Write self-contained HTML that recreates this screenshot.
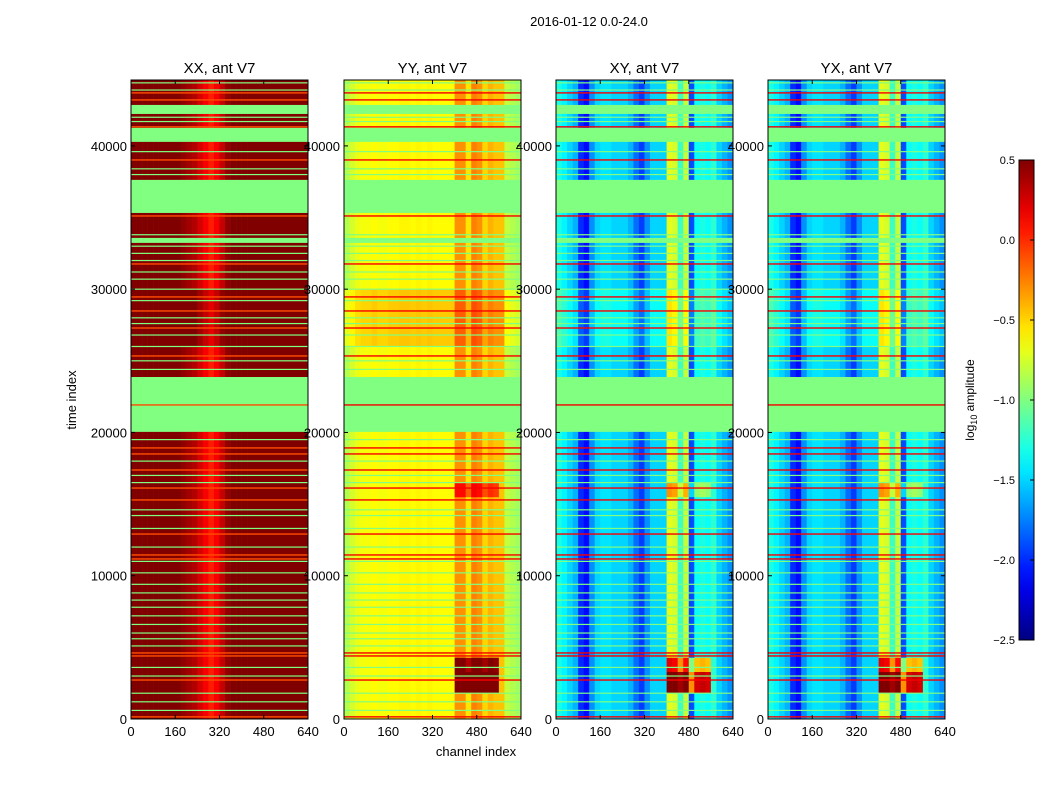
<!DOCTYPE html>
<html><head><meta charset="utf-8"><style>
body{margin:0;background:#fff;}
svg text{font-family:"Liberation Sans",sans-serif;fill:#000;}
</style></head><body>
<svg id="fig" width="1050" height="800" viewBox="0 0 1050 800" xmlns="http://www.w3.org/2000/svg">
<rect width="1050" height="800" fill="#fff"/>
<text x="589" y="26" font-size="13" text-anchor="middle">2016-01-12 0.0-24.0</text>
<text transform="translate(76,400) rotate(-90)" font-size="13" text-anchor="middle">time index</text>
<text x="476" y="756" font-size="13" text-anchor="middle">channel index</text>
<g id="panels"></g>
<g id="cbar"></g>
</svg>
<script>
// ---- data ----
const panelTitles = ["XX, ant V7","YY, ant V7","XY, ant V7","YX, ant V7"];
// channel profiles: log10 amplitude per 20-channel bin (32 bins over 0..640)
const profileXX = [0.5,0.5,0.5,0.5,0.5,0.5,0.5,0.5,0.5,0.45,0.4,0.35,0.25,0.15,0.05,0.15,0.3,0.45,0.5,0.5,0.5,0.5,0.5,0.5,0.5,0.5,0.5,0.5,0.5,0.5,0.5,0.5];
const profileYY = [-0.85,-0.75,-0.68,-0.65,-0.65,-0.62,-0.65,-0.65,-0.62,-0.62,-0.6,-0.6,-0.62,-0.6,-0.62,-0.6,-0.62,-0.62,-0.62,-0.62,-0.3,-0.3,-0.55,-0.25,-0.3,-0.5,-0.4,-0.45,-0.45,-0.8,-0.85,-0.9];
const profileXY = [-1.3,-1.4,-1.5,-1.6,-2.0,-2.1,-1.7,-1.5,-1.45,-1.45,-1.5,-1.5,-1.5,-1.6,-1.8,-1.95,-1.7,-1.5,-1.5,-1.5,-0.7,-0.75,-1.2,-0.8,-1.9,-1.35,-1.3,-1.35,-1.25,-1.5,-1.6,-1.7];
const profileYX = [-1.3,-1.4,-1.5,-1.6,-2.0,-2.1,-1.7,-1.5,-1.45,-1.45,-1.5,-1.5,-1.5,-1.6,-1.8,-1.95,-1.7,-1.5,-1.5,-1.5,-0.7,-0.75,-1.2,-0.8,-1.9,-1.35,-1.3,-1.35,-1.25,-1.5,-1.6,-1.7];
const profiles = [profileXX, profileYY, profileXY, profileYX];
// time segments: start, end
const segStart = [0,1800,3300,4300,15500,16500,26000,30000];
const segEnd   = [1800,3300,4300,15500,16500,26000,30000,44600];
const segOffset = [0,0,0,0,0,0,0.15,0];
const segHiOffset = [0,1.6,0.9,0,0.4,0,0,0];
// flagged (no data) time bands
const flagStart = [42230,40280,35320,33230,20040];
const flagEnd   = [42860,41260,37630,33580,23870];
// thin flagged rows
const flagLines = [44400,43900,42000,41700,39600,38400,38000,33800,33000,32500,32000,31200,30700,30000,29200,28000,27600,26800,26000,25000,24400,19500,18000,17000,16500,14600,14200,13300,12000,11000,10200,9400,8800,8300,7800,7200,6600,6000,5600,5100,3600,3000,1800,1200,600];
// thin hot (bright) rows
const hotLines = [43700,43210,41330,39020,35110,31760,29460,28480,27290,25340,21920,18920,18500,17380,16120,15290,12910,11450,11170,4610,4400,2720,150];
const xTicks = [0,160,320,480,640];
const yTicks = [0,10000,20000,30000,40000];
const cbarTicks = [0.5,0.0,-0.5,-1.0,-1.5,-2.0,-2.5];
const cbarLabels = ["0.5","0.0","\u22120.5","\u22121.0","\u22121.5","\u22122.0","\u22122.5"];

// ---- scales ----
const panelX = [131,344,556,768], panelW = 177, pTop = 80, pBottom = 719;
const tMax = 44600, chMax = 640, vMin = -2.5, vMax = 0.5;
const yScale = t => pBottom - (t / tMax) * (pBottom - pTop);
const xScale = (p, c) => panelX[p] + (c / chMax) * panelW;
function clip(v){return Math.max(0,Math.min(1,v));}
function jet(v){
  const x = clip((v - vMin) / (vMax - vMin));
  const r = clip(1.5 - Math.abs(4*x - 3)), g = clip(1.5 - Math.abs(4*x - 2)), b = clip(1.5 - Math.abs(4*x - 1));
  return `rgb(${Math.round(r*255)},${Math.round(g*255)},${Math.round(b*255)})`;
}
const NS = "http://www.w3.org/2000/svg";
function mk(tag, attrs, parent){const e=document.createElementNS(NS,tag);for(const k in attrs)e.setAttribute(k,attrs[k]);parent.appendChild(e);return e;}

const panelsG = document.getElementById('panels');
for (let p = 0; p < 4; p++) {
  const g = mk('g', {}, panelsG);
  
  
  const prof = profiles[p];
  const binW = chMax / prof.length;
  for (let s = 0; s < segStart.length; s++) {
    const y1 = yScale(segEnd[s]), y2 = yScale(segStart[s]);
    for (let b = 0; b < prof.length; b++) {
      const c0 = b * binW;
      let v = prof[b] + segOffset[s];
      if (c0 >= 400 && c0 < 560) v += segHiOffset[s];
      const x1 = xScale(p, c0), x2 = xScale(p, c0 + binW);
      const r = mk('rect', {x:x1, y:y1, width:x2-x1+0.3, height:y2-y1+0.3, fill:jet(v)}, g);
      
      
    }
  }
  for (let f = 0; f < flagStart.length; f++) {
    const r = mk('rect', {x:panelX[p], y:yScale(flagEnd[f]), width:panelW, height:yScale(flagStart[f])-yScale(flagEnd[f]), fill:jet(-1.0)}, g);
    
    
  }
  for (let i = 0; i < flagLines.length; i++) {
    const r = mk('rect', {x:panelX[p], y:yScale(flagLines[i])-0.6, width:panelW, height:1.2, fill:jet(-1.0)}, g);
    
    
  }
  for (let i = 0; i < hotLines.length; i++) {
    const r = mk('rect', {x:panelX[p], y:yScale(hotLines[i])-0.7, width:panelW, height:1.4, fill:jet(p===0?-0.1:0.15)}, g);
    
    
  }
  const frame = mk('rect', {x:panelX[p], y:pTop, width:panelW, height:pBottom-pTop, fill:'none', stroke:'#000', 'stroke-width':1}, g);
  
  
  const title = mk('text', {x:panelX[p]+panelW/2, y:73, 'font-size':15, 'text-anchor':'middle'}, g);
  title.textContent = panelTitles[p];
  
  
  for (const t of xTicks) {
    const x = xScale(p, t);
    mk('line', {x1:x, x2:x, y1:pBottom, y2:pBottom-4, stroke:'#000'}, g);
    mk('line', {x1:x, x2:x, y1:pTop, y2:pTop+4, stroke:'#000'}, g);
    const tx = mk('text', {x:x, y:pBottom+17, 'font-size':13, 'text-anchor':'middle'}, g);
    tx.textContent = t;
    
    
  }
  for (const t of yTicks) {
    const y = yScale(t);
    mk('line', {x1:panelX[p], x2:panelX[p]+4, y1:y, y2:y, stroke:'#000'}, g);
    mk('line', {x1:panelX[p]+panelW, x2:panelX[p]+panelW-4, y1:y, y2:y, stroke:'#000'}, g);
    const ty = mk('text', {x:panelX[p]-4, y:y+5, 'font-size':13, 'text-anchor':'end'}, g);
    ty.textContent = t;
    
    
  }
}

// colorbar
const cb = document.getElementById('cbar');
const cbX = 1019, cbW = 15, cbTop = 160, cbBot = 640;
const defs = mk('defs', {}, cb);
const grad = mk('linearGradient', {id:'jetg', x1:0, y1:1, x2:0, y2:0}, defs);
for (let i = 0; i <= 20; i++) {
  mk('stop', {offset:(i/20), 'stop-color':jet(vMin + (vMax - vMin) * i / 20)}, grad);
}
const cbr = mk('rect', {x:cbX, y:cbTop, width:cbW, height:cbBot-cbTop, fill:'url(#jetg)', stroke:'#000'}, cb);


const cbScale = v => cbBot - (v - vMin) / (vMax - vMin) * (cbBot - cbTop);
for (let i = 0; i < cbarTicks.length; i++) {
  const y = cbScale(cbarTicks[i]);
  mk('line', {x1:cbX+cbW-4, x2:cbX+cbW, y1:y, y2:y, stroke:'#000'}, cb);
  const t = mk('text', {x:cbX-4, y:y+4, 'font-size':11, 'text-anchor':'end'}, cb);
  t.textContent = cbarLabels[i];
  
  
}
const cl = mk('text', {transform:'translate(974,400) rotate(-90)', 'font-size':12, 'text-anchor':'middle'}, cb);


const t1 = mk('tspan', {}, cl); t1.textContent = 'log';
const t2 = mk('tspan', {'font-size':9, dy:3}, cl); t2.textContent = '10';
const t3 = mk('tspan', {dy:-3}, cl); t3.textContent = ' amplitude';
</script>
</body></html>
